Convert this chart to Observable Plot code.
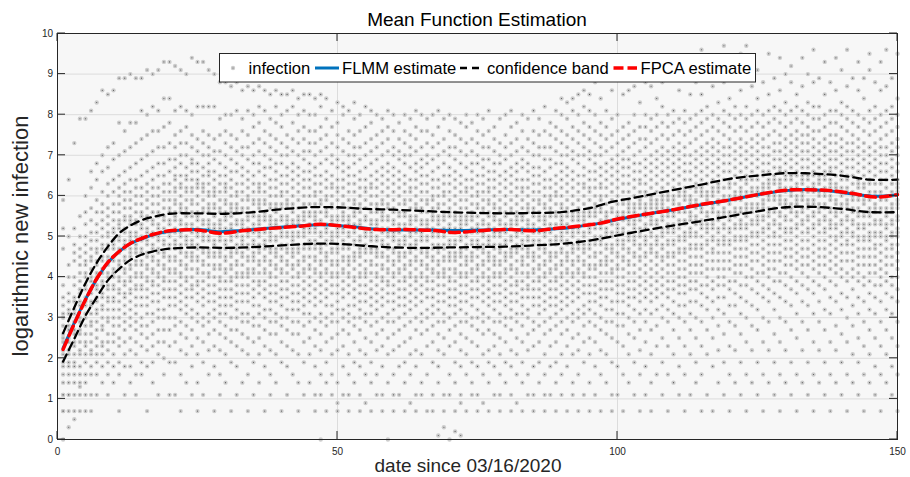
<!DOCTYPE html>
<html><head><meta charset="utf-8">
<script src="https://cdn.jsdelivr.net/npm/d3@7"></script>
<script src="https://cdn.jsdelivr.net/npm/@observablehq/plot@0.6"></script>
<style>body{margin:0;background:#fff;} svg{display:block}</style>
</head><body><div id="chart"></div>
<script>
// x ticks / y ticks
const xTicks = [0, 50, 100, 150];
const yTicks = [0,1,2,3,4,5,6,7,8,9,10];

// estimated curves
const meanDays = [1,3,5,7,9,11,13,15,17,20,25,29,33,38,43,47,52,57,62,67,71,76,81,85,89,92,97,100,105,110,115,120,125,130,134,138,142,146,150];
const flmm = [2.25,2.87,3.45,3.95,4.35,4.63,4.82,4.94,5.04,5.13,5.17,5.12,5.15,5.21,5.26,5.29,5.25,5.18,5.16,5.16,5.15,5.16,5.17,5.16,5.19,5.23,5.33,5.42,5.55,5.66,5.78,5.9,6.03,6.13,6.16,6.12,6.05,5.99,6.03];
const fpca = [2.22,2.85,3.44,3.96,4.36,4.63,4.83,4.95,5.05,5.14,5.16,5.08,5.14,5.2,5.25,5.3,5.24,5.17,5.17,5.15,5.1,5.15,5.17,5.14,5.2,5.24,5.33,5.43,5.55,5.66,5.79,5.9,6.03,6.14,6.15,6.13,6.06,5.97,6.03];
const bandDays = [1,3,5,7,9,11,13,15,17,20,25,30,35,40,45,50,55,60,65,70,75,80,85,90,95,99,104,109,115,120,125,130,135,140,145,150];
const upperBand = [2.62,3.25,3.85,4.35,4.75,5.08,5.27,5.4,5.48,5.56,5.57,5.56,5.6,5.67,5.72,5.72,5.68,5.66,5.63,5.6,5.58,5.57,5.58,5.6,5.7,5.85,5.98,6.12,6.28,6.42,6.5,6.56,6.55,6.5,6.4,6.4];
const lowerBand = [1.92,2.48,3.05,3.5,3.92,4.2,4.42,4.55,4.63,4.7,4.73,4.72,4.74,4.78,4.82,4.82,4.77,4.73,4.72,4.73,4.74,4.75,4.78,4.82,4.9,5.0,5.13,5.25,5.38,5.5,5.62,5.72,5.73,5.68,5.6,5.6];

// infection observations (tenths of log value), one row per day 1..150
const infectionByDay = [
[0,7,7,11,11,14,16,18,19,21,22,24,25,26,28,30,31,33,35,38,47,52,59],
[3,7,11,11,14,16,18,19,21,22,24,25,27,28,31,32,34,36,40,43,50,64],
[5,7,11,14,16,18,19,21,23,24,26,27,29,31,32,34,35,38,40,44,46,48,52,73],
[7,11,13,14,16,18,21,22,24,26,27,29,30,33,34,36,37,39,41,43,45,47,50,55,79],
[7,11,14,16,19,21,23,24,26,28,30,31,33,34,35,37,38,40,41,43,44,46,48,50,53,56,60,79],
[7,11,16,18,21,22,24,26,28,29,31,33,34,36,37,39,40,42,44,45,47,49,51,54,57,62,66,81],
[11,16,19,21,23,25,27,29,31,32,34,35,37,38,40,41,43,44,46,47,49,51,53,56,59,64,68,83],
[14,18,21,23,24,27,28,30,32,33,35,36,38,39,41,42,44,45,47,48,50,52,54,56,58,61,66,70,86],
[11,16,19,22,24,26,29,30,32,34,35,37,38,40,41,43,44,45,47,48,50,51,53,55,57,60,63,67,72,85],
[14,18,21,24,26,28,30,32,34,35,37,38,40,41,42,44,45,47,48,49,51,52,54,56,58,61,64,69,73,86],
[7,16,19,23,25,28,30,32,34,36,37,39,40,42,43,44,46,47,49,50,52,53,54,56,58,60,62,65,70,78,89],
[11,18,21,24,27,29,31,33,35,36,38,39,41,42,44,45,47,48,49,51,52,54,55,57,59,61,63,66,71,76,89],
[14,18,22,25,28,30,32,34,36,37,39,40,42,43,45,46,47,49,50,51,53,54,55,57,59,61,64,67,72,78,90],
[11,16,21,24,27,29,31,33,35,37,38,40,41,43,44,46,47,48,50,51,53,54,56,58,60,62,64,68,73,78,89],
[16,19,23,26,28,30,33,35,37,38,40,41,43,44,46,47,49,50,52,53,55,56,58,60,62,65,69,74,81,89],
[7,18,22,25,28,31,33,35,37,39,40,42,43,45,46,48,49,51,52,54,55,57,59,61,63,66,70,75,80,91],
[14,19,23,26,29,31,34,36,38,39,41,42,44,45,47,48,50,51,53,54,56,58,60,62,64,67,71,76,82,90],
[11,21,24,27,30,32,34,36,38,40,41,43,44,46,47,49,50,52,53,55,56,58,60,62,65,68,72,76,81,91],
[16,20,24,27,30,32,35,37,39,40,42,43,45,46,48,49,51,52,54,55,57,59,61,63,65,68,72,77,84,93],
[11,19,23,27,30,33,35,37,39,41,42,44,45,47,48,50,51,53,54,56,57,59,61,63,66,69,73,78,84,93],
[11,19,24,28,30,33,35,37,39,41,42,44,45,47,48,49,51,52,54,55,56,58,59,61,62,64,65,67,69,72,75,81,92],
[7,16,22,26,29,32,34,36,38,40,41,43,44,46,47,48,50,51,53,54,56,57,58,60,62,63,65,68,70,73,76,82,91],
[14,21,25,28,31,33,35,37,39,40,42,43,45,46,48,49,50,52,53,55,56,57,59,61,62,64,65,67,70,73,77,81,90],
[11,18,23,27,30,32,35,37,38,40,42,44,45,46,48,49,51,52,53,55,56,58,59,61,62,64,66,68,69,72,75,80,94],
[7,14,21,25,29,31,34,36,38,39,41,42,44,45,47,48,50,51,52,54,55,56,58,60,62,63,64,66,68,71,74,82,93],
[11,19,24,28,30,33,35,37,39,41,43,44,46,47,49,50,51,53,54,56,57,59,61,62,63,65,67,70,73,76,82,93],
[16,22,26,29,31,34,36,38,40,41,43,45,46,47,49,50,52,53,54,56,57,58,60,61,63,65,66,68,70,72,75,82,91],
[7,18,23,27,30,32,34,36,38,40,42,43,45,46,48,49,51,52,53,55,57,58,60,61,62,64,66,69,71,74,82,90],
[11,16,22,26,29,31,33,35,37,39,40,42,43,45,46,47,49,50,52,53,54,56,57,59,61,63,65,68,71,75,79,88],
[14,21,25,28,31,33,35,37,39,41,42,44,45,47,48,49,51,52,54,55,56,58,59,61,62,63,65,67,70,73,76,80,88],
[7,19,24,27,30,33,35,37,39,40,42,43,45,46,47,49,50,52,53,55,56,57,58,60,62,64,66,69,72,75,80,87],
[11,18,23,27,30,32,34,36,38,40,41,43,44,46,47,48,50,51,53,54,56,57,58,60,61,63,66,68,71,74,81,88],
[14,22,26,29,31,34,36,38,40,41,43,45,46,48,49,50,52,53,54,56,57,59,61,63,65,67,70,72,76,79,86],
[7,16,21,25,29,31,34,36,38,40,41,42,44,45,47,48,50,51,52,54,55,57,59,60,62,64,66,69,72,75,81,87],
[11,19,24,28,30,33,35,37,39,41,42,44,45,46,48,49,51,52,53,55,56,58,59,61,63,65,68,70,73,77,80,86],
[14,21,25,28,31,33,36,38,39,41,43,44,46,47,48,50,51,53,54,55,57,58,59,61,62,63,66,68,71,74,78,82,87],
[7,18,23,27,30,32,35,37,39,41,42,44,45,47,48,49,51,52,54,55,56,58,59,61,63,65,67,70,73,76,81,86],
[11,16,22,26,29,32,34,36,38,40,41,43,44,46,47,49,50,51,53,54,55,57,58,60,62,64,67,69,72,75,79,85],
[14,21,26,29,31,34,36,38,40,42,43,45,46,47,49,50,52,53,54,56,57,58,60,62,64,66,68,71,74,78,82,86],
[7,19,24,28,30,33,35,37,39,41,42,44,45,47,48,50,51,52,54,55,57,58,60,61,63,65,68,70,73,77,80,85],
[11,18,23,27,30,32,35,37,39,41,43,44,46,47,48,50,51,53,54,55,57,58,59,61,63,65,67,70,72,75,81,85],
[16,22,26,29,32,34,36,38,40,42,43,45,46,47,49,50,51,53,54,56,57,58,60,62,64,66,68,71,74,78,82,86],
[7,14,21,26,29,32,34,36,38,40,41,43,44,46,47,48,50,51,53,54,55,57,59,61,63,65,67,70,73,76,80,84],
[11,19,24,28,31,33,35,37,39,41,42,44,45,47,48,50,51,52,54,55,56,58,60,62,64,66,69,71,74,77,81,85],
[14,21,25,29,31,34,36,38,40,42,43,45,47,48,49,51,52,53,55,56,58,60,62,64,66,68,71,73,76,80,85],
[7,11,18,23,27,30,33,35,37,39,41,42,44,45,47,48,49,51,52,54,55,56,58,60,61,63,65,67,70,73,76,80,84],
[0,11,16,22,26,29,31,34,36,38,40,41,43,44,46,47,48,50,51,53,54,56,58,59,61,63,65,68,71,74,77,82,85],
[7,14,19,24,28,30,33,35,37,39,41,42,44,45,46,48,49,51,52,53,55,56,57,59,60,62,64,66,69,72,75,79,84],
[11,16,21,25,29,31,33,36,38,40,41,43,44,46,47,49,50,51,53,54,55,57,58,60,62,63,65,68,70,73,77,81],
[7,9,14,22,26,29,32,34,36,38,40,41,43,44,46,47,48,50,51,52,54,55,57,59,61,62,64,67,69,72,75,78,83],
[11,18,23,27,30,32,35,37,39,41,42,44,45,47,48,49,51,52,54,55,56,58,60,62,64,66,68,71,74,80,82],
[7,11,16,21,26,29,31,33,36,38,40,41,43,44,45,47,48,50,51,53,54,55,57,59,61,63,65,67,70,73,76,81],
[14,19,24,28,30,33,35,37,39,40,42,44,45,46,48,49,51,52,53,55,56,58,59,61,63,65,68,70,72,75,79,83],
[7,11,18,22,27,30,32,34,36,38,40,41,43,45,46,47,49,50,52,53,54,56,57,58,60,62,64,66,69,72,76,80],
[9,16,21,25,29,31,34,36,38,40,41,42,44,46,47,48,50,51,52,54,55,57,59,61,62,64,67,70,73,77,82],
[7,14,19,24,28,31,33,35,37,39,41,43,44,46,47,49,50,51,53,54,56,58,60,62,63,65,68,71,74,78,81],
[11,16,22,26,29,32,34,36,38,40,41,43,45,46,47,49,50,52,53,54,56,57,58,60,62,64,66,69,72,75,80],
[7,11,18,23,27,30,33,35,37,39,40,42,43,45,46,48,49,51,52,54,55,56,58,59,61,63,65,67,70,73,76,79],
[0,14,21,25,29,31,34,36,38,39,41,42,44,45,47,48,50,51,52,54,55,57,58,60,62,64,66,68,71,74,77,81],
[7,11,16,22,26,29,32,34,36,38,40,41,43,44,46,47,49,50,51,53,54,56,57,59,61,63,65,67,70,72,76,80],
[11,18,23,27,30,33,35,37,39,41,42,44,45,46,48,49,51,52,53,55,56,58,60,62,64,66,69,71,74,78],
[7,14,19,24,28,31,33,35,37,39,40,42,43,45,46,48,49,50,52,53,55,56,58,59,61,63,65,68,70,73,76,80],
[9,16,21,25,29,32,34,36,38,40,41,43,44,46,47,48,50,51,53,54,55,57,59,61,62,64,67,70,72,75,79],
[7,11,18,22,27,30,33,35,37,39,40,42,44,45,47,48,49,51,52,54,55,57,58,60,62,64,66,68,71,74,77,81],
[11,14,21,26,29,31,34,36,38,40,41,43,44,46,47,49,50,51,53,54,56,57,59,61,63,65,67,69,72,76,80],
[7,16,23,27,30,32,35,37,39,40,42,43,45,46,47,49,50,52,53,54,56,58,59,61,63,65,68,70,73,76,79],
[7,11,19,24,28,31,33,35,37,39,41,42,44,45,47,48,50,51,52,54,55,56,57,59,60,62,64,66,69,72,75,80],
[1,14,18,22,26,29,32,34,36,38,40,41,43,44,46,47,48,50,51,53,54,55,57,58,60,62,64,67,70,73,77,81],
[3,7,11,21,25,29,31,34,36,38,40,41,42,44,45,47,48,50,51,52,54,55,56,58,60,61,63,65,68,71,74,79],
[0,11,16,23,27,30,33,35,37,39,40,42,44,45,46,48,49,51,52,53,55,56,57,59,61,63,65,67,70,72,76,80],
[2,7,14,19,24,28,31,33,35,37,39,41,42,44,45,46,48,49,51,52,54,55,56,58,60,62,64,66,69,72,75,79],
[1,9,11,18,22,26,29,32,34,36,38,40,41,43,45,46,47,49,50,52,53,54,55,57,59,61,63,65,68,71,74,78],
[7,16,21,25,29,31,34,36,38,40,41,43,44,45,47,48,50,51,53,54,55,57,59,61,62,64,67,70,73,77,80],
[11,14,19,24,28,30,33,35,37,39,41,42,44,45,46,48,49,51,52,54,55,56,58,60,62,64,66,68,71,74,78],
[7,11,18,23,27,30,32,35,37,39,40,42,43,45,47,48,49,51,52,53,55,57,58,60,61,63,65,68,70,73,76,80],
[9,16,21,26,29,31,34,36,38,40,41,43,44,46,47,48,50,51,53,54,56,57,59,61,63,65,67,69,72,75,79],
[7,14,19,22,27,30,33,35,37,39,40,42,44,45,46,48,49,50,52,53,55,56,58,59,61,62,64,66,69,72,76,81],
[11,18,23,26,29,32,34,36,38,40,41,43,44,45,47,48,50,51,52,54,55,57,58,60,62,64,66,68,71,74,77],
[7,11,16,21,25,29,31,34,36,38,40,41,43,44,46,47,48,50,51,53,54,56,57,59,61,63,65,68,70,73,79],
[14,19,24,28,30,33,35,37,39,41,42,44,45,46,48,49,51,52,53,55,56,58,60,62,64,66,69,72,75,80],
[7,11,18,22,27,30,32,34,36,38,40,42,43,45,46,47,49,50,52,53,54,56,57,59,61,63,65,67,70,73,77,81],
[9,16,21,25,29,31,34,36,38,39,41,42,44,46,47,48,50,51,53,54,55,56,58,60,62,64,66,68,71,74,78],
[7,14,19,24,28,31,33,35,37,39,41,43,44,45,47,48,49,51,52,54,55,57,59,61,62,64,67,69,72,76,80],
[11,16,22,26,30,32,35,37,38,40,41,43,45,46,47,49,50,52,53,54,56,57,58,60,62,64,66,68,71,74,79],
[7,11,18,23,27,29,33,35,37,39,41,42,44,45,46,48,49,51,52,53,55,56,57,59,61,63,65,67,70,73,76,81],
[14,19,24,28,31,33,35,37,39,40,42,43,45,47,48,49,51,52,54,55,56,58,59,61,63,65,67,70,72,75,79],
[7,11,16,21,26,29,32,34,36,38,40,41,43,44,46,47,48,50,51,53,54,55,57,58,60,62,64,66,69,72,76,82],
[11,18,23,27,30,33,35,37,39,41,42,44,45,46,48,49,51,52,53,55,56,57,59,60,62,64,67,69,72,75,78],
[7,14,19,24,28,31,33,35,37,39,40,42,43,45,46,48,49,50,52,53,55,56,58,60,61,63,65,68,71,74,77,81],
[11,16,21,26,29,32,34,36,38,40,41,43,44,46,47,49,50,51,53,54,55,57,58,60,62,64,66,68,70,73,76,80,84],
[7,18,23,27,30,33,35,37,39,41,42,44,45,46,48,49,51,52,53,55,56,57,59,61,63,65,67,70,72,75,79,83],
[11,14,21,25,29,31,34,36,38,40,41,43,44,46,47,48,50,51,52,54,55,56,58,60,62,64,66,69,71,74,77,81,84],
[7,16,22,26,30,32,35,37,39,41,42,44,45,47,48,49,51,52,54,55,56,57,59,61,63,65,68,70,73,76,80,85],
[11,19,24,28,31,33,36,38,40,41,43,44,46,47,48,50,51,53,54,55,56,58,60,62,63,65,67,70,72,75,78,82,86],
[7,14,21,25,29,32,34,36,38,40,42,43,45,47,48,49,51,52,53,55,56,57,59,61,62,64,66,69,71,74,77,81,85],
[11,18,24,28,31,34,36,38,40,42,43,45,46,48,49,50,52,53,55,56,57,58,60,62,64,66,68,70,73,76,80,88],
[7,16,22,27,30,33,35,37,39,41,43,44,46,48,49,50,52,53,54,56,57,59,60,62,63,65,67,70,72,75,78,84],
[14,21,26,29,32,35,37,39,41,43,44,45,47,48,50,51,52,54,55,56,58,60,62,64,66,68,71,74,77,81,89],
[7,11,19,25,29,32,34,37,39,41,42,44,46,47,48,50,51,53,54,56,57,59,61,63,65,67,69,72,75,79,86],
[11,18,24,28,31,34,36,38,40,42,43,45,46,48,49,51,52,53,55,56,58,60,62,64,66,68,70,73,76,80,91],
[7,16,23,28,31,34,36,38,40,42,44,45,47,48,49,51,52,54,55,56,58,59,61,63,65,67,69,71,74,77,85],
[14,21,26,30,33,35,37,39,41,43,44,46,47,49,50,51,53,54,56,57,58,59,61,63,65,67,69,72,75,78,86,90],
[11,19,25,29,32,35,37,39,41,43,45,46,48,49,50,52,53,54,56,57,58,60,62,64,66,68,70,73,76,80,87],
[7,16,22,27,31,34,36,38,40,42,44,45,47,48,50,51,52,54,55,57,58,59,61,63,64,66,68,71,74,77,83],
[11,18,24,29,32,35,37,39,41,43,45,46,48,49,50,52,53,55,56,57,58,60,61,63,65,67,69,72,74,77,80,88,92],
[7,14,21,27,31,34,36,38,40,42,44,46,47,48,50,51,53,54,55,57,58,59,60,62,64,66,68,70,73,76,79,87],
[16,23,28,32,35,37,39,41,43,45,46,48,49,50,52,53,54,56,57,58,59,61,63,65,67,69,71,74,77,80,84,92],
[11,19,25,30,33,36,38,40,42,44,45,47,48,50,51,52,54,55,57,58,59,60,62,64,66,68,70,72,75,78,82,88],
[7,16,23,29,32,35,37,39,41,43,45,46,48,49,51,52,53,55,56,57,59,60,61,63,65,67,69,71,74,77,80,93],
[14,21,27,31,34,37,39,41,43,45,46,48,49,51,52,53,55,56,58,59,60,62,64,66,68,70,72,75,78,81,89],
[11,18,25,30,33,36,38,40,42,44,46,47,49,50,52,53,54,56,57,58,60,61,63,65,67,69,71,73,76,79,86,91],
[7,16,23,29,33,36,38,40,42,44,46,47,49,50,51,53,54,56,57,59,60,61,62,64,66,68,70,72,75,78,81,94],
[11,21,27,31,34,37,39,41,43,45,47,48,50,51,52,54,55,56,58,59,60,62,64,66,68,70,73,76,79,85],
[14,19,25,30,34,37,39,41,43,45,47,48,50,51,53,54,55,57,58,59,61,62,63,65,67,69,71,74,77,80,88,92],
[7,16,23,29,33,36,38,41,43,45,47,48,50,52,53,54,56,57,58,60,61,62,64,66,68,70,72,75,78,81,85,96],
[11,21,27,32,35,38,40,42,44,46,48,49,51,52,53,55,56,58,59,60,61,63,65,67,69,71,73,76,79,82,90],
[7,18,25,30,34,37,39,42,44,46,47,49,50,52,53,54,56,57,58,60,61,62,64,66,68,70,72,74,77,80,87],
[14,22,28,32,35,38,40,42,44,46,48,49,51,52,54,55,56,58,59,61,62,63,65,67,69,71,73,76,79,83,94],
[11,19,26,31,35,38,40,42,44,46,48,49,50,52,53,55,56,57,59,60,62,64,66,68,70,72,75,78,81,88,97],
[7,16,23,29,33,37,39,42,44,46,48,49,51,52,54,55,56,58,59,60,62,63,64,66,68,70,72,74,77,80,84,91],
[14,22,28,33,36,39,41,43,45,47,49,50,52,53,55,56,57,59,60,61,63,65,67,69,71,73,76,79,82,89],
[11,19,26,31,35,38,41,43,45,47,49,50,52,53,54,56,57,59,60,61,62,64,66,68,70,72,74,77,80,86,95],
[7,16,24,30,34,38,40,43,45,47,49,50,52,53,55,56,57,58,60,61,63,64,65,67,69,71,73,76,79,82,97],
[14,22,28,33,37,40,42,44,46,48,50,51,53,54,56,57,58,60,61,62,64,66,68,70,72,74,77,80,87,93],
[11,19,27,32,36,39,41,44,46,48,50,51,53,54,55,57,58,60,61,62,64,65,67,69,71,73,75,78,81,84,91],
[7,16,24,30,35,38,41,43,45,47,49,51,52,54,55,57,58,59,61,62,63,65,66,68,70,72,74,77,80,88],
[14,22,29,34,37,40,42,44,46,48,50,52,53,55,56,57,59,60,62,63,64,66,68,70,72,75,78,81,85,95],
[11,19,26,32,36,39,42,44,46,48,50,51,53,54,56,57,59,60,61,63,64,65,67,69,71,73,76,79,82,89],
[7,16,24,30,35,39,41,44,46,48,50,52,53,55,56,58,59,60,62,63,64,66,67,69,71,73,75,78,81,86,94],
[14,22,29,34,38,41,43,45,47,49,51,52,54,55,57,58,59,61,62,64,65,66,68,70,72,74,77,80,83,90],
[11,19,27,33,37,40,43,45,47,49,51,52,54,56,57,58,60,61,62,64,65,67,69,71,73,75,78,81,88,92],
[7,16,25,31,36,39,42,44,46,48,50,52,53,55,56,58,59,60,62,63,65,66,68,70,72,74,76,79,82,85],
[14,22,29,34,38,41,43,45,47,49,51,53,54,56,57,59,60,61,63,64,65,67,69,71,73,75,78,81,87,94],
[11,19,27,33,37,40,43,45,47,49,51,52,54,55,57,58,59,61,62,64,65,67,69,71,73,75,77,80,83,90],
[7,16,24,31,36,39,42,44,46,48,50,52,53,55,56,58,59,61,62,63,65,66,68,70,72,74,76,79,82,88,96],
[14,22,29,34,38,41,43,45,47,49,51,53,54,56,57,58,60,61,63,64,65,67,69,71,73,76,79,82,89],
[11,19,27,32,37,40,43,45,47,49,51,52,54,55,57,58,60,61,62,64,65,66,68,70,72,74,77,80,85,93],
[7,16,24,31,35,39,42,44,46,48,50,52,53,54,56,57,59,60,62,63,64,66,67,69,71,73,75,78,81,88],
[14,22,28,34,38,41,43,45,47,49,50,52,53,55,56,58,59,61,62,63,65,67,69,71,73,75,78,81,86,94],
[11,19,26,32,36,40,42,44,46,48,50,51,53,54,56,57,58,60,61,62,64,66,68,70,72,74,77,80,83,91],
[7,16,24,30,35,39,41,44,46,48,49,51,52,54,55,57,58,59,61,62,64,65,67,69,71,73,76,79,82,87,96],
[14,21,28,33,37,40,42,44,46,48,50,51,53,54,56,57,59,60,61,63,65,67,69,71,73,75,78,81,89],
[11,19,25,31,35,39,41,43,45,47,49,50,52,53,55,56,57,59,60,62,63,64,66,68,70,72,74,77,80,86,93],
[7,16,23,29,34,38,40,43,45,47,49,50,52,53,55,56,58,59,60,62,63,65,67,69,71,73,76,79,84,89],
[14,21,27,32,36,39,41,43,45,47,49,50,51,53,55,56,57,59,60,61,63,64,66,68,70,72,75,78,81,91,95],
[11,18,25,31,35,38,41,43,45,47,48,50,51,53,54,56,57,58,60,61,63,65,67,69,71,73,76,79,82,88],
[7,16,23,29,34,38,40,42,44,46,48,50,51,53,54,56,57,59,60,61,63,64,66,68,70,72,74,77,80,86,93],
[14,21,27,32,36,39,41,43,45,47,49,50,52,53,55,56,57,59,60,62,64,66,68,70,72,75,78,81,87,96],
[11,18,25,31,35,38,40,43,45,47,48,50,51,53,54,56,57,58,60,61,63,65,67,69,71,73,76,79,82,89],
[7,16,23,29,34,37,40,42,44,46,48,50,51,52,54,55,57,58,59,61,62,63,64,66,68,70,72,74,77,80,84,95]
];

const points = infectionByDay.flatMap((vals, i) => vals.map(v => ({day: i + 1, value: v / 10})));
const series = (days, vals) => days.map((d, i) => ({day: d, value: vals[i]}));

const FONT = "'Liberation Sans', Arial, Helvetica, sans-serif";
const DOT_FILL = "#cccccc", DOT_CORE = "#555555";

const chart = Plot.plot({
  width: 910, height: 477,
  marginLeft: 57, marginRight: 13, marginTop: 33, marginBottom: 38,
  style: {fontFamily: FONT, background: "#ffffff", color: "#262626", overflow: "visible"},
  x: {domain: [0, 150]},
  y: {domain: [0, 10]},
  marks: [
    Plot.frame({fill: "#f7f7f7", stroke: null}),
    Plot.gridX(xTicks, {stroke: "#dcdcdc", strokeOpacity: 1, strokeWidth: 1}),
    Plot.gridY(yTicks, {stroke: "#dcdcdc", strokeOpacity: 1, strokeWidth: 1}),
    Plot.dot(points, {x: "day", y: "value", r: 2.2, fill: DOT_FILL}),
    Plot.dot(points, {x: "day", y: "value", r: 0.55, fill: DOT_CORE}),
    Plot.line(series(bandDays, upperBand), {x: "day", y: "value", stroke: "#000", strokeWidth: 2.3, strokeDasharray: "8,5", curve: "catmull-rom"}),
    Plot.line(series(bandDays, lowerBand), {x: "day", y: "value", stroke: "#000", strokeWidth: 2.3, strokeDasharray: "8,5", curve: "catmull-rom"}),
    Plot.line(series(meanDays, flmm), {x: "day", y: "value", stroke: "#0072BD", strokeWidth: 3, curve: "catmull-rom"}),
    Plot.line(series(meanDays, fpca), {x: "day", y: "value", stroke: "#FF0000", strokeWidth: 3.5, strokeDasharray: "10,5", curve: "catmull-rom"}),
    Plot.axisX({ticks: xTicks, tickSize: 0, tickPadding: 8, fontSize: 10, label: null}),
    Plot.axisY({ticks: yTicks, tickSize: 0, tickPadding: 4.5, fontSize: 10, label: null}),
    Plot.frame({stroke: "#262626", strokeWidth: 1})
  ]
});

document.getElementById("chart").appendChild(chart);

const svg = d3.select(chart);
const xs = chart.scale("x"), ys = chart.scale("y");
const X0 = xs.apply(0), X1 = xs.apply(150), Y0 = ys.apply(0), Y1 = ys.apply(10);
const TL = 8;

// inward tick marks on all four sides (box on)
const tg = svg.append("g").attr("stroke", "#262626").attr("stroke-width", 1);
yTicks.forEach(t => {
  const y = ys.apply(t);
  tg.append("line").attr("x1", X0).attr("x2", X0 + TL).attr("y1", y).attr("y2", y);
  tg.append("line").attr("x1", X1).attr("x2", X1 - TL).attr("y1", y).attr("y2", y);
});
xTicks.forEach(t => {
  const x = xs.apply(t);
  tg.append("line").attr("x1", x).attr("x2", x).attr("y1", Y0).attr("y2", Y0 - TL);
  tg.append("line").attr("x1", x).attr("x2", x).attr("y1", Y1).attr("y2", Y1 + TL);
});

// title and axis labels
svg.append("text").attr("x", (X0 + X1) / 2).attr("y", 26).attr("text-anchor", "middle")
  .attr("font-family", FONT).attr("font-size", 19).attr("fill", "#000").text("Mean Function Estimation");
svg.append("text").attr("x", 468).attr("y", 472).attr("text-anchor", "middle")
  .attr("font-family", FONT).attr("font-size", 19).attr("fill", "#262626").text("date since 03/16/2020");
svg.append("text").attr("transform", `translate(27.5,${(Y0 + Y1) / 2}) rotate(-90)`).attr("text-anchor", "middle")
  .attr("font-family", FONT).attr("font-size", 22).attr("fill", "#262626").text("logarithmic new infection");

// legend
const lg = svg.append("g").attr("font-family", FONT).attr("font-size", 16.6).attr("fill", "#000").attr("text-anchor", "start");
lg.append("rect").attr("x", 219.5).attr("y", 53.5).attr("width", 536).attr("height", 28.5)
  .attr("fill", "#fff").attr("stroke", "#262626").attr("stroke-width", 1);
const LY = 68, TY = 74;
lg.append("circle").attr("cx", 233).attr("cy", LY).attr("r", 2.2).attr("fill", DOT_FILL);
lg.append("circle").attr("cx", 233).attr("cy", LY).attr("r", 0.55).attr("fill", DOT_CORE);
lg.append("text").attr("x", 248.5).attr("y", TY).text("infection");
lg.append("line").attr("x1", 315).attr("x2", 339).attr("y1", LY).attr("y2", LY).attr("stroke", "#0072BD").attr("stroke-width", 3);
lg.append("text").attr("x", 342).attr("y", TY).text("FLMM estimate");
lg.append("line").attr("x1", 460).attr("x2", 483).attr("y1", LY).attr("y2", LY).attr("stroke", "#000").attr("stroke-width", 2.3).attr("stroke-dasharray", "7,5");
lg.append("text").attr("x", 487).attr("y", TY).text("confidence band");
lg.append("line").attr("x1", 613.5).attr("x2", 637).attr("y1", LY).attr("y2", LY).attr("stroke", "#FF0000").attr("stroke-width", 3.5).attr("stroke-dasharray", "10,4");
lg.append("text").attr("x", 640.5).attr("y", TY).text("FPCA estimate");
</script>
</body></html>
